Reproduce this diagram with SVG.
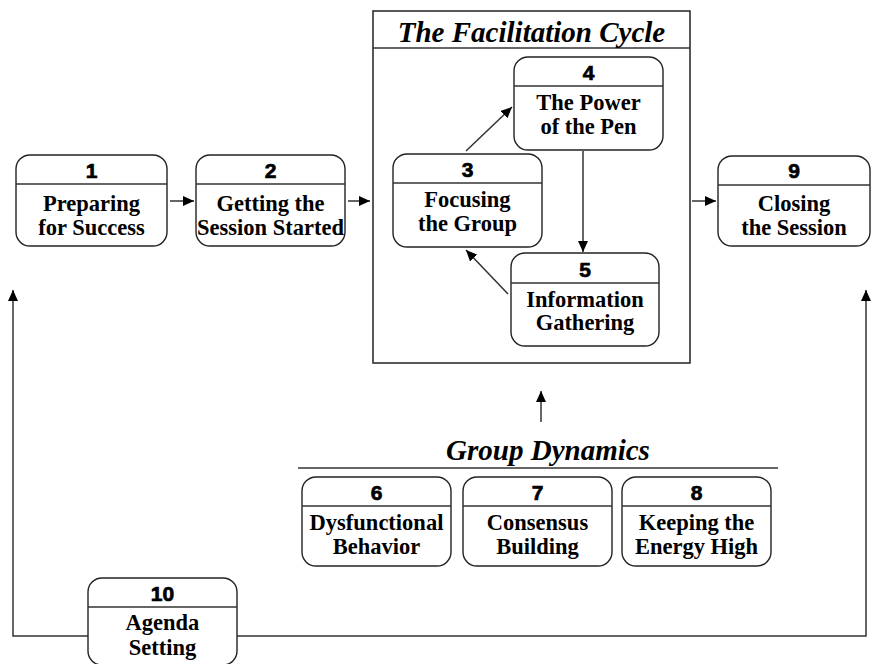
<svg xmlns="http://www.w3.org/2000/svg" width="872" height="664" viewBox="0 0 872 664">
<style>
.box{fill:#fff;stroke:#222;stroke-width:1.4}
.div{stroke:#333;stroke-width:1.4}
.frame{fill:none;stroke:#222;stroke-width:1.5}
.num{font-family:"Liberation Sans",Arial,sans-serif;font-weight:bold;font-size:21px;text-anchor:middle;fill:#000;stroke:#000;stroke-width:0.7}
.lbl{font-family:"Liberation Serif","Times New Roman",serif;font-weight:bold;font-size:22.5px;text-anchor:middle;fill:#000}
.ttl{font-family:"Liberation Serif","Times New Roman",serif;font-weight:bold;font-style:italic;font-size:29px;text-anchor:middle;fill:#000}
.con{fill:none;stroke:#333;stroke-width:1.5}
</style>
<defs>
<marker id="ah" markerUnits="userSpaceOnUse" markerWidth="11" markerHeight="10" refX="11" refY="5" orient="auto">
<path d="M0,0 L11,5 L0,10 z" fill="#000"/>
</marker>
</defs>

<g id="facilitation-cycle">
<rect class="frame" x="373" y="11" width="317" height="352"/>
<line class="div" x1="373" y1="48" x2="690" y2="48"/>
<text class="ttl" x="531.5" y="42">The Facilitation Cycle</text>
</g>

<g id="group-dynamics">
<line class="div" x1="298" y1="468" x2="778" y2="468"/>
<text class="ttl" x="548" y="460">Group Dynamics</text>
</g>

<g id="connectors">
<line class="con" x1="170" y1="201" x2="194" y2="201" marker-end="url(#ah)"/>
<line class="con" x1="348" y1="201" x2="370" y2="201" marker-end="url(#ah)"/>
<line class="con" x1="692" y1="201" x2="716" y2="201" marker-end="url(#ah)"/>
<line class="con" x1="466" y1="151" x2="512" y2="107" marker-end="url(#ah)"/>
<line class="con" x1="583" y1="151" x2="583" y2="252" marker-end="url(#ah)"/>
<line class="con" x1="508" y1="294" x2="466" y2="250" marker-end="url(#ah)"/>
<line class="con" x1="541" y1="422" x2="541" y2="391" marker-end="url(#ah)"/>
<polyline class="con" points="88,636 13,636 13,290" marker-end="url(#ah)"/>
<polyline class="con" points="237,636 866,636 866,290" marker-end="url(#ah)"/>
</g>

<g id="node1">
<rect class="box" x="16" y="155" width="151" height="91" rx="14"/>
<line class="div" x1="16" y1="184" x2="167" y2="184"/>
<text class="num" x="91.5" y="178">1</text>
<text class="lbl" x="91.5" y="211">Preparing</text>
<text class="lbl" x="91.5" y="235">for Success</text>
</g>

<g id="node2">
<rect class="box" x="196" y="155" width="149" height="91" rx="14"/>
<line class="div" x1="196" y1="184" x2="345" y2="184"/>
<text class="num" x="270.5" y="178">2</text>
<text class="lbl" x="270.5" y="211">Getting the</text>
<text class="lbl" x="270.5" y="235">Session Started</text>
</g>

<g id="node3">
<rect class="box" x="393" y="154" width="149" height="93" rx="14"/>
<line class="div" x1="393" y1="183" x2="542" y2="183"/>
<text class="num" x="467.5" y="177">3</text>
<text class="lbl" x="467.5" y="207">Focusing</text>
<text class="lbl" x="467.5" y="231">the Group</text>
</g>

<g id="node4">
<rect class="box" x="514" y="57" width="149" height="93" rx="14"/>
<line class="div" x1="514" y1="86" x2="663" y2="86"/>
<text class="num" x="588.5" y="80">4</text>
<text class="lbl" x="588.5" y="110">The Power</text>
<text class="lbl" x="588.5" y="134">of the Pen</text>
</g>

<g id="node5">
<rect class="box" x="511" y="253" width="148" height="93" rx="14"/>
<line class="div" x1="511" y1="283" x2="659" y2="283"/>
<text class="num" x="585" y="277">5</text>
<text class="lbl" x="585" y="307">Information</text>
<text class="lbl" x="585" y="330">Gathering</text>
</g>

<g id="node6">
<rect class="box" x="302" y="477" width="149" height="89" rx="14"/>
<line class="div" x1="302" y1="506" x2="451" y2="506"/>
<text class="num" x="376.5" y="500">6</text>
<text class="lbl" x="376.5" y="530">Dysfunctional</text>
<text class="lbl" x="376.5" y="554">Behavior</text>
</g>

<g id="node7">
<rect class="box" x="463" y="477" width="149" height="89" rx="14"/>
<line class="div" x1="463" y1="506" x2="612" y2="506"/>
<text class="num" x="537.5" y="500">7</text>
<text class="lbl" x="537.5" y="530">Consensus</text>
<text class="lbl" x="537.5" y="554">Building</text>
</g>

<g id="node8">
<rect class="box" x="622" y="477" width="149" height="89" rx="14"/>
<line class="div" x1="622" y1="506" x2="771" y2="506"/>
<text class="num" x="696.5" y="500">8</text>
<text class="lbl" x="696.5" y="530">Keeping the</text>
<text class="lbl" x="696.5" y="554">Energy High</text>
</g>

<g id="node9">
<rect class="box" x="718" y="156" width="152" height="90" rx="14"/>
<line class="div" x1="718" y1="185" x2="870" y2="185"/>
<text class="num" x="794" y="178">9</text>
<text class="lbl" x="794" y="211">Closing</text>
<text class="lbl" x="794" y="235">the Session</text>
</g>

<g id="node10">
<rect class="box" x="88" y="578" width="149" height="87" rx="14"/>
<line class="div" x1="88" y1="607" x2="237" y2="607"/>
<text class="num" x="162.5" y="601">10</text>
<text class="lbl" x="162.5" y="630">Agenda</text>
<text class="lbl" x="162.5" y="655">Setting</text>
</g>
</svg>
